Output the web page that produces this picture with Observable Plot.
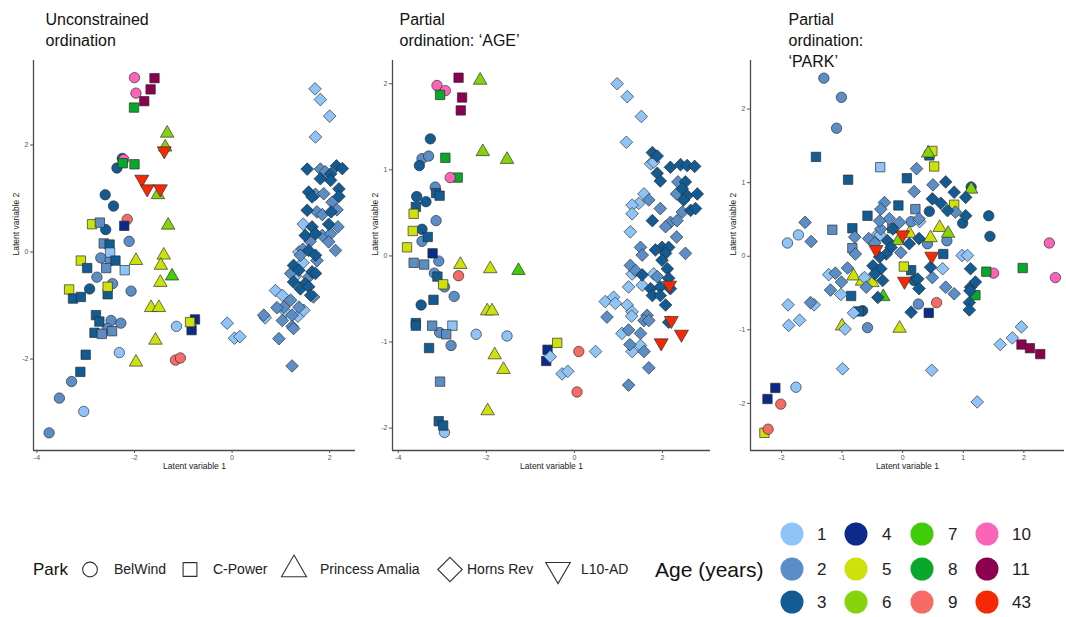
<!DOCTYPE html>
<html><head><meta charset="utf-8">
<script src="https://cdn.jsdelivr.net/npm/d3@7"></script>
<script src="https://cdn.jsdelivr.net/npm/@observablehq/plot@0.6"></script>
<style>
body{margin:0;background:#fff;font-family:"Liberation Sans",Arial,sans-serif;}
#root{position:relative;width:1066px;height:617px;overflow:hidden;background:#fff;}
#root svg{position:absolute;top:0;}
</style></head><body><div id="root"></div>
<script>
// ---------- categories ----------
const ages = [1, 2, 3, 4, 5, 6, 7, 8, 9, 10, 11, 43];
const ageColors = ["#8ec4f8", "#5b8ec6", "#135b93", "#0b2a8a", "#cce20a", "#86d20c", "#41cc0a", "#08a82c", "#f76b66", "#fb64b8", "#8c0050", "#f52a05"];
const parks = ["BelWind", "C-Power", "Princess Amalia", "Horns Rev", "L10-AD"];
const panelTitles = ["Unconstrained\nordination", "Partial\nordination: \u2018AGE\u2019", "Partial\nordination:\n\u2018PARK\u2019"];
const xLabel = "Latent variable 1";
const yLabel = "Latent variable 2";

// ---------- panel 1: unconstrained ordination  [x, y, age] ----------
const uBelWind = [[-2.00,3.26,10],[-1.97,2.97,10],[-2.25,1.75,3],[-2.22,1.73,10],[-2.36,1.57,3],[-2.60,1.07,3],[-2.43,0.86,3],[-2.15,0.61,9],[-2.59,0.42,3],[-2.11,0.20,2],[-2.69,-0.11,2],[-2.50,-0.16,2],[-2.77,-0.47,2],[-2.92,-0.69,3],[-2.45,-0.59,2],[-2.07,-0.73,2],[-2.48,-1.28,2],[-2.56,-1.43,2],[-2.28,-1.33,2],[-1.14,-1.39,1],[-2.31,-1.88,1],[-1.16,-2.02,9],[-1.06,-1.98,9],[-3.29,-2.42,2],[-3.54,-2.73,2],[-3.04,-2.98,1],[-3.75,-3.38,2]];
const uCPower = [[-1.59,3.25,11],[-1.67,3.04,11],[-1.80,2.82,11],[-2.01,2.70,8],[-2.24,1.66,8],[-2.00,1.64,8],[-2.87,0.52,5],[-2.71,0.55,2],[-2.21,0.49,4],[-2.63,0.16,2],[-2.51,0.14,3],[-2.50,-0.01,1],[-3.10,-0.16,5],[-2.97,-0.30,3],[-2.39,-0.16,3],[-2.58,-0.30,2],[-2.20,-0.34,1],[-3.34,-0.70,5],[-3.26,-0.87,3],[-3.10,-0.84,3],[-2.55,-0.79,3],[-2.55,-0.65,5],[-2.79,-1.18,3],[-2.72,-1.30,3],[-2.82,-1.51,3],[-2.67,-1.53,2],[-2.46,-1.48,2],[-0.76,-1.26,4],[-0.83,-1.46,4],[-0.86,-1.31,5],[-3.00,-1.92,3],[-3.11,-2.24,3]];
const uAmalia = [[-1.33,2.22,6],[-1.37,1.96,6],[-1.52,1.07,6],[-1.31,0.50,6],[-1.40,-0.06,5],[-1.97,-0.16,5],[-1.46,-0.25,5],[-1.23,-0.45,7],[-1.47,-0.57,5],[-1.66,-1.04,5],[-1.50,-1.04,5],[-1.57,-1.65,5],[-1.97,-2.06,5]];
const uHorns = [[1.70,3.05,1],[1.81,2.85,1],[2.00,2.54,1],[1.71,2.15,1],[-0.10,-1.33,1],[0.05,-1.61,1],[0.16,-1.58,1],[0.68,-1.23,1],[1.10,-1.12,1],[1.35,-1.20,1],[1.45,-0.20,1],[1.30,-0.45,1],[0.89,-0.72,1],[1.03,-0.81,1],[1.47,-1.09,1],[1.46,0.52,1],[1.37,0.00,1],
[1.81,1.55,2],[1.91,1.50,2],[1.71,1.08,2],[1.88,1.09,2],[2.05,0.93,2],[1.74,0.75,2],[2.15,0.79,2],[2.17,0.47,2],[1.85,0.31,2],[2.02,0.34,2],[1.98,0.19,2],[2.12,0.03,2],[1.85,0.70,2],[1.60,0.20,2],[1.45,0.05,2],[1.40,-0.06,2],[1.74,-0.16,2],[1.20,-0.40,2],[1.57,-0.47,2],[1.67,-0.84,2],[1.20,-0.90,2],[1.37,-1.03,2],[1.06,-1.03,2],[0.92,-1.04,2],[1.23,-1.18,2],[0.65,-1.18,2],[1.03,-1.28,2],[1.23,-1.39,2],[1.26,-1.43,2],[0.96,-1.62,2],[1.23,-2.13,2],
[1.54,1.55,3],[2.14,1.61,3],[2.26,1.56,3],[2.02,1.46,3],[1.81,1.37,3],[2.02,1.34,3],[2.19,1.18,3],[1.57,1.12,3],[1.64,1.03,3],[2.19,1.04,3],[1.54,0.78,3],[2.03,0.75,3],[1.64,0.47,3],[1.98,0.52,3],[1.50,0.31,3],[1.71,0.34,3],[1.57,0.03,3],[1.71,-0.06,3],[1.26,-0.25,3],[1.37,-0.34,3],[1.64,-0.37,3],[1.71,-0.40,3],[1.26,-0.56,3],[1.50,-0.59,3],[1.40,-0.69,3],[1.57,-0.65,3],[1.61,-0.81,3]];
const uL10 = [[-1.39,1.89,43],[-1.85,1.36,43],[-1.74,1.18,43],[-1.47,1.18,43]];

// ---------- panel 2: partial ordination 'AGE' ----------
const aBelWind = [[-3.12,1.98,10],[-2.93,1.92,10],[-3.27,1.36,3],[-3.46,1.13,2],[-3.31,1.16,2],[-3.52,1.05,3],[-3.16,0.80,2],[-3.58,0.69,3],[-3.37,0.63,3],[-3.14,0.41,2],[-3.46,0.31,3],[-3.46,0.17,2],[-3.08,-0.06,2],[-3.18,-0.20,2],[-2.63,-0.23,9],[-2.95,-0.36,2],[-2.73,-0.47,2],[-3.48,-0.57,3],[-3.06,-0.89,2],[-2.80,-1.04,2],[-2.23,-0.91,1],[-1.53,-0.93,1],[-2.95,-2.05,1],[0.10,-1.11,9],[0.06,-1.58,9]];
const aCPower = [[-2.63,2.07,11],[-2.55,1.84,11],[-2.58,1.69,11],[-3.05,1.87,8],[-2.93,1.14,8],[-2.65,0.91,8],[-3.14,0.73,3],[-3.06,0.70,3],[-3.60,0.57,3],[-3.65,0.49,5],[-3.67,0.29,5],[-3.33,0.22,3],[-3.80,0.10,5],[-3.22,0.03,4],[-3.65,-0.08,2],[-3.41,-0.10,2],[-3.11,-0.24,3],[-2.98,-0.33,5],[-3.20,-0.51,3],[-3.60,-0.78,3],[-3.60,-0.81,3],[-3.23,-0.81,2],[-2.77,-0.81,1],[-2.91,-0.91,2],[-3.30,-1.07,3],[-3.05,-1.46,2],[-3.08,-1.92,3],[-2.98,-1.97,3],[-0.61,-1.09,4],[-0.64,-1.22,4],[-0.39,-1.01,5]];
const aBelWindTop = [[-2.82,0.91,10]];
const aAmalia = [[-2.14,2.04,6],[-2.08,1.21,6],[-1.53,1.12,6],[-2.59,-0.10,5],[-1.91,-0.15,5],[-1.27,-0.17,7],[-1.98,-0.64,5],[-1.87,-0.64,5],[-1.81,-1.15,5],[-1.61,-1.32,5],[-1.97,-1.80,5]];
const aHorns = [[0.97,2.00,1],[1.20,1.85,1],[1.52,1.62,1],[1.18,1.32,1],[0.48,-1.11,1],[-0.55,-1.17,1],[-0.28,-1.37,1],[-0.15,-1.34,1],[1.73,1.07,1],[1.80,1.09,1],[1.58,0.72,1],[1.46,0.61,1],[1.31,0.59,1],[1.31,0.49,1],[1.27,0.28,1],[1.31,-0.21,1],[1.80,-0.21,1],[1.23,-0.36,1],[1.54,-0.34,1],[0.70,-0.53,1],[0.89,-0.48,1],[0.93,-0.55,1],[1.20,-0.57,1],[1.31,-0.65,1],[1.30,-0.70,1],[1.08,-0.90,1],[1.31,-1.11,1],[1.50,-1.04,1],
[2.35,0.86,2],[2.32,0.72,2],[2.45,0.51,2],[1.69,0.65,2],[1.95,0.55,2],[2.18,0.39,2],[2.33,0.41,2],[2.07,0.34,2],[2.32,0.22,2],[1.50,0.10,2],[1.54,0.01,2],[2.52,0.03,2],[1.27,-0.11,2],[1.39,-0.17,2],[1.88,-0.24,2],[1.65,-0.69,2],[0.74,-0.71,2],[1.23,-0.86,2],[1.50,-0.90,2],[1.58,-0.75,2],[1.69,-0.75,2],[1.58,-1.11,2],[1.69,-1.30,2],[1.23,-1.50,2],[1.26,-1.03,2],
[1.77,1.20,3],[1.88,1.16,3],[1.88,0.96,3],[1.95,0.87,3],[2.18,1.03,3],[2.41,1.06,3],[2.56,1.05,3],[2.73,1.04,3],[2.52,0.86,3],[2.45,0.78,3],[2.56,0.70,3],[2.79,0.72,3],[2.48,0.65,3],[2.64,0.53,3],[2.75,0.55,3],[1.77,0.41,3],[1.99,0.10,3],[2.14,0.10,3],[1.84,0.07,3],[2.07,0.03,3],[1.99,-0.05,3],[2.11,-0.15,3],[1.54,-0.22,3],[2.14,-0.26,3],[1.73,-0.38,3],[1.95,-0.36,3],[2.18,-0.38,3],[1.77,-0.46,3],[1.95,-0.46,3],[2.07,-0.57,3],[2.14,-0.77,3]];
const aL10 = [[2.16,-0.34,43],[2.20,-0.75,43],[2.43,-0.91,43],[1.97,-1.01,43]];

// ---------- panel 3: partial ordination 'PARK' ----------
const pBelWind = [[-1.30,2.42,2],[-1.01,2.16,2],[-1.09,1.74,2],[-1.90,0.18,1],[-1.72,0.29,1],[0.14,0.47,2],[0.44,0.61,3],[0.99,0.45,3],[1.42,0.55,3],[1.44,0.27,3],[1.13,0.94,3],[0.73,0.21,2],[0.41,0.17,2],[0.26,-0.65,2],[0.56,-0.63,9],[-0.58,-0.97,2],[-0.66,-0.74,3],[2.42,0.18,10],[2.52,-0.29,10],[1.50,-0.23,10],[-1.76,-1.78,1],[-2.01,-2.01,9],[0.19,-0.33,3]];
const pCPower = [[-1.43,1.35,3],[-0.37,1.21,1],[-0.90,1.04,3],[0.07,1.06,3],[0.44,1.37,3],[0.49,1.43,5],[0.52,1.22,5],[-0.07,0.69,3],[-0.58,0.55,3],[0.21,0.64,2],[-1.16,0.36,2],[-0.83,0.38,3],[-0.83,0.11,2],[0.67,0.03,3],[0.85,0.70,5],[0.14,-0.19,3],[0.02,-0.14,5],[-0.85,-0.54,3],[-0.72,-0.75,3],[0.43,-0.77,4],[1.38,-0.21,8],[1.98,-0.16,8],[1.20,-0.53,8],[1.96,-1.20,11],[2.10,-1.25,11],[2.27,-1.33,11],[-2.10,-1.79,4],[-2.23,-1.94,4],[-2.28,-2.40,5],[-0.17,0.38,2]];
const pBelWindTop = [[-2.22,-2.35,9]];
const pAmalia = [[0.42,1.40,6],[1.13,0.91,6],[-0.07,0.21,6],[0.61,0.39,5],[0.75,0.31,6],[0.46,0.25,5],[0.11,0.31,5],[-0.81,-0.27,5],[-0.67,-0.34,5],[-0.50,-0.36,5],[-0.32,-0.55,7],[-1.00,-0.95,5],[-0.05,-0.98,5]];
const pHorns = [[-1.89,-0.66,1],[-1.88,-0.94,1],[-1.70,-0.87,1],[-1.46,-0.66,1],[-1.22,-0.25,1],[-1.02,-0.52,1],[-0.99,-1.53,1],[0.48,-1.55,1],[1.23,-1.98,1],[1.61,-1.20,1],[1.81,-1.11,1],[1.96,-0.96,1],[-0.95,-0.99,1],[-0.81,-0.77,1],[-0.41,0.30,1],[0.66,-0.17,1],[0.98,0.01,1],[1.07,0.01,1],[-0.63,-0.29,1],[0.28,0.47,1],[-0.37,0.29,1],
[-1.61,0.46,2],[-1.51,0.20,2],[-1.52,-0.63,2],[-1.11,-0.23,2],[-1.19,-0.46,2],[-1.01,-0.35,2],[-0.91,-0.16,2],[-0.79,0.26,2],[-0.78,0.03,2],[0.23,1.19,2],[0.19,0.88,2],[0.50,0.97,2],[0.87,0.60,2],[-0.30,0.73,2],[-0.36,0.64,2],[-0.22,0.51,2],[-0.05,0.46,2],[-0.36,0.37,2],[0.27,0.51,2],[-0.03,0.05,2],[0.49,-0.29,2],[0.71,-0.42,2],[0.85,-0.51,2],[-0.60,-0.42,2],[-0.38,0.48,2],[-0.56,0.24,2],[-0.46,0.18,2],
[0.71,1.01,3],[0.85,0.87,3],[0.49,0.78,3],[0.63,0.72,3],[0.74,0.62,3],[1.04,0.80,3],[1.04,0.55,3],[-0.25,0.21,3],[-0.16,0.37,3],[0.11,0.17,3],[0.27,0.24,3],[-0.19,0.12,3],[-0.27,0.03,3],[-0.38,-0.01,3],[-0.49,-0.13,3],[-0.36,-0.17,3],[-0.46,-0.24,3],[-0.33,-0.33,3],[0.46,-0.15,3],[1.12,-0.17,3],[0.25,-0.31,3],[0.27,-0.44,3],[1.12,-0.42,3],[1.20,-0.35,3],[-0.41,-0.56,3],[1.11,-0.47,3],[1.10,-0.63,3],[1.10,-0.73,3],[0.14,-0.76,3]];
const pL10 = [[0.00,0.29,43],[-0.44,0.09,43],[0.48,0.00,43],[0.03,-0.34,43]];

// ---------- axis ticks ----------
const ticksX = [[-4,-2,0,2], [-4,-2,0,2], [-2,-1,0,1,2]];
const ticksY = [[-2,0,2], [-2,-1,0,1,2], [-2,-1,0,1,2]];

// ---------- rendering ----------
const FONT = "'Liberation Sans', Arial, sans-serif";
const invTriangle = {
  draw(context, size) {
    const s3 = Math.sqrt(3);
    const y = -Math.sqrt(size / (s3 * 3));
    context.moveTo(0, -y * 2);
    context.lineTo(-s3 * y, y);
    context.lineTo(s3 * y, y);
    context.closePath();
  }
};
const parkSymbol = {"BelWind": "circle", "C-Power": "square", "Princess Amalia": "triangle", "Horns Rev": "diamond2", "L10-AD": invTriangle};
const parkR = {"BelWind": 5.2, "C-Power": 5.3, "Princess Amalia": 5.0, "Horns Rev": 5.7, "L10-AD": 5.2};

const layout = [
  {left: 0, width: 360, ml: 33, mr: 5, xd: [-4.07, 2.53], yd: [-3.71, 3.58], tdx: 12},
  {left: 360, width: 355, ml: 32, mr: 5, xd: [-4.13, 3.09], yd: [-2.26, 2.27], tdx: 7},
  {left: 715, width: 351, ml: 35, mr: 2, xd: [-2.51, 2.67], yd: [-2.64, 2.66], tdx: 38}
];
const panelData = [
  [["BelWind", uBelWind], ["C-Power", uCPower], ["Princess Amalia", uAmalia], ["Horns Rev", uHorns], ["L10-AD", uL10]],
  [["BelWind", aBelWind], ["C-Power", aCPower], ["BelWind", aBelWindTop], ["Princess Amalia", aAmalia], ["Horns Rev", aHorns], ["L10-AD", aL10]],
  [["BelWind", pBelWind], ["C-Power", pCPower], ["BelWind", pBelWindTop], ["Princess Amalia", pAmalia], ["Horns Rev", pHorns], ["L10-AD", pL10]]
];

const root = document.getElementById("root");
const fmt = d => String(d);

layout.forEach((L, i) => {
  const marks = [
    Plot.ruleX([L.xd[0]], {stroke: "#4a4a4a", strokeWidth: 1.3}),
    Plot.ruleY([L.yd[0]], {stroke: "#4a4a4a", strokeWidth: 1.3}),
    Plot.axisX({ticks: ticksX[i], tickSize: 3, tickPadding: 2, tickFormat: fmt, label: null, fontSize: 7, color: "#555"}),
    Plot.axisY({ticks: ticksY[i], tickSize: 3, tickPadding: 2, tickFormat: fmt, label: null, fontSize: 7, color: "#555"})
  ];
  for (const [park, rows] of panelData[i]) {
    marks.push(Plot.dot(rows, {
      x: d => d[0], y: d => d[1], fill: d => d[2],
      symbol: parkSymbol[park], r: parkR[park],
      stroke: "#2b2b2b", strokeOpacity: 0.75, strokeWidth: 0.9
    }));
  }
  marks.push(
    Plot.text([xLabel], {text: d => d, frameAnchor: "bottom", dy: 18, fontSize: 8.5, fill: "#222"}),
    Plot.text([yLabel], {text: d => d, frameAnchor: "left", dx: -17, rotate: -90, fontSize: 8.5, fill: "#222"}),
    Plot.text([panelTitles[i]], {text: d => d, frameAnchor: "top-left", dx: L.tdx, dy: -50, lineAnchor: "top", textAnchor: "start", lineHeight: 1.31, fontSize: 16, fill: "#111"})
  );
  const svg = Plot.plot({
    width: L.width, height: 480,
    marginLeft: L.ml, marginRight: L.mr, marginTop: 60, marginBottom: 30,
    x: {domain: L.xd},
    y: {domain: L.yd},
    color: {type: "ordinal", domain: ages, range: ageColors},
    style: {fontFamily: FONT, fontSize: "7px", background: "transparent", overflow: "visible"},
    marks
  });
  svg.style.left = L.left + "px";
  svg.style.position = "absolute";
  svg.style.top = "0px";
  root.appendChild(svg);
});

// ---------- legends ----------
const leg = d3.create("svg").attr("width", 1066).attr("height", 137)
  .style("position", "absolute").style("left", "0px").style("top", "480px")
  .style("font-family", FONT);
const ly = 89.5; // row centre of park legend
leg.append("text").attr("x", 33).attr("y", ly).attr("dy", "0.35em")
  .attr("font-size", 17).attr("fill", "#111").text("Park");
const parkLegendPos = [[90, 114], [190, 213], [294, 320], [450, 467], [558, 581]];
const legSym = {"BelWind": [d3.symbolCircle, 170], "C-Power": [d3.symbolSquare, 190], "Princess Amalia": [d3.symbolTriangle, 270], "Horns Rev": [d3.symbolDiamond2, 380], "L10-AD": [invTriangle, 260]};
parks.forEach((p, k) => {
  const [sx, tx] = parkLegendPos[k];
  const [sym, size] = legSym[p];
  leg.append("path").attr("d", d3.symbol(sym, size)())
    .attr("transform", `translate(${sx},${ly})`)
    .attr("fill", "none").attr("stroke", "#333").attr("stroke-width", 1.1);
  leg.append("text").attr("x", tx).attr("y", ly).attr("dy", "0.35em")
    .attr("font-size", 14).attr("fill", "#222").text(p);
});
leg.append("text").attr("x", 655).attr("y", ly).attr("dy", "0.35em")
  .attr("font-size", 21).attr("fill", "#111").text("Age (years)");
const colX = [792, 856, 922, 987];
const labX = [817, 882, 948, 1012];
const rowY = [54, 89, 122];
ages.forEach((a, k) => {
  const c = Math.floor(k / 3), r = k % 3;
  leg.append("circle").attr("cx", colX[c]).attr("cy", rowY[r]).attr("r", 11.5).attr("fill", ageColors[k]);
  leg.append("text").attr("x", labX[c]).attr("y", rowY[r]).attr("dy", "0.35em")
    .attr("font-size", 17).attr("fill", "#222").text(String(a));
});
root.appendChild(leg.node());
</script></body></html>
